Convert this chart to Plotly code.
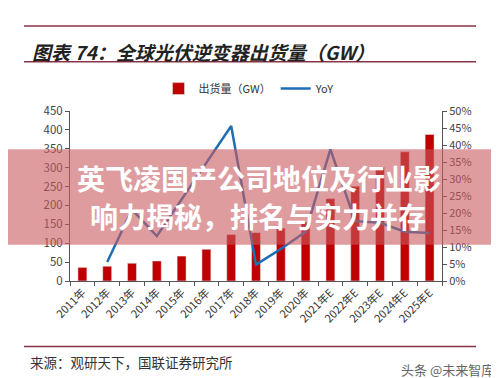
import plotly.graph_objects as go

years = ["2011年", "2012年", "2013年", "2014年", "2015年", "2016年", "2017年", "2018年",
         "2019年", "2020年", "2021年E", "2022年E", "2023年E", "2024年E", "2025年E"]
shipments = [36, 39, 47, 53, 66, 84, 123, 128, 140, 156, 218, 251, 302, 342, 388]
yoy = [None, 0.056, 0.21, 0.132, 0.24, 0.35, 0.456, 0.048, 0.094, 0.145, 0.387, 0.176, 0.171, 0.145, 0.141]

W, H = 499, 378
L, R, T, B = 62, 434, 102.5, 273.3
def px(x):
    return (x - L) / (R - L)
def py(y):
    return (B - y) / (B - T)

FONT = "Noto Sans CJK SC, Liberation Sans, Arial"

fig = go.Figure()
fig.add_trace(go.Bar(x=years, y=shipments, name="出货量（GW）",
                     marker=dict(color="rgb(192,0,0)"), yaxis="y"))
fig.add_trace(go.Scatter(x=years, y=yoy, name="YoY", mode="lines",
                         line=dict(color="rgb(30,110,180)", width=2.5), yaxis="y2"))

axcol = "#555"
fig.update_layout(
    width=W, height=H, autosize=False,
    margin=dict(l=L, r=W - R, t=T, b=H - B),
    paper_bgcolor="white", plot_bgcolor="white",
    bargap=0.64,
    font=dict(family=FONT, color="#333"),
    xaxis=dict(type="category", tickangle=-45, tickfont=dict(size=11, color="#333"),
               showline=True, linecolor=axcol, linewidth=1, ticks="outside",
               tickson="boundaries", ticklen=4, tickcolor=axcol, showgrid=False),
    yaxis=dict(range=[0, 450], dtick=50, showgrid=False, showline=True, linecolor=axcol,
               ticks="outside", ticklen=4, tickcolor=axcol, tickfont=dict(size=11.5, color="#444"),
               zeroline=False),
    yaxis2=dict(range=[0, 0.5], dtick=0.05, tickformat=".0%", overlaying="y", side="right",
                showgrid=False, showline=True, linecolor=axcol, ticks="outside", ticklen=4,
                tickcolor=axcol, tickfont=dict(size=11, color="#444"), zeroline=False),
    legend=dict(orientation="h", x=px(241), xanchor="center", y=py(80), yanchor="middle",
                font=dict(size=11, color="#333"), bgcolor="rgba(0,0,0,0)"),
)

shapes = []
for yy in (17, 53, 339):
    shapes.append(dict(type="line", xref="paper", yref="paper", x0=px(16), x1=px(468),
                       y0=py(yy), y1=py(yy), line=dict(color="rgb(140,50,70)", width=1.5)))
shapes.append(dict(type="rect", xref="paper", yref="paper", x0=px(0), x1=px(W),
                   y0=py(237), y1=py(141), fillcolor="rgba(200,90,95,0.6)",
                   line=dict(width=0), layer="above"))
fig.update_layout(shapes=shapes)

anns = [
    dict(text="<b><i>图表 74：全球光伏逆变器出货量（GW）</i></b>", x=px(22), y=py(43),
         xanchor="left", yanchor="middle", font=dict(size=19, color="#222", family=FONT)),
    dict(text="来源：观研天下，国联证券研究所", x=px(20), y=py(355), xanchor="left",
         yanchor="middle", font=dict(size=13.5, color="#333", family=FONT)),
    dict(text="头条 @未来智库", x=px(488), y=py(362), xanchor="right", yanchor="middle",
         font=dict(size=13, color="#666", family=FONT)),
    dict(text="<b>英飞凌国产公司地位及行业影</b>", x=px(251), y=py(170), xanchor="center",
         yanchor="middle", font=dict(size=28, color="white", family=FONT)),
    dict(text="<b>响力揭秘，排名与实力并存</b>", x=px(250), y=py(208), xanchor="center",
         yanchor="middle", font=dict(size=28, color="white", family=FONT)),
]
for a in anns:
    a.update(xref="paper", yref="paper", showarrow=False)
fig.update_layout(annotations=anns)

fig.write_html("out.html")
